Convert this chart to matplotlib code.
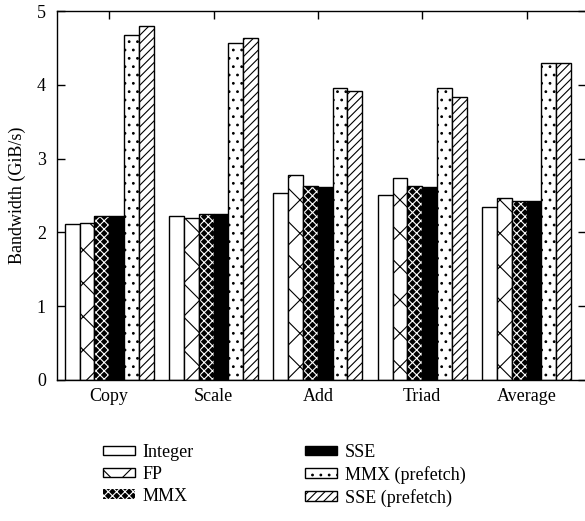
import matplotlib
matplotlib.use("Agg")
import matplotlib.pyplot as plt
import matplotlib.patches as mpatches
import numpy as np

plt.rcParams['font.family'] = ['Liberation Serif', 'DejaVu Serif']
plt.rcParams['hatch.linewidth'] = 0.8

categories = ["Copy", "Scale", "Add", "Triad", "Average"]
series_names = ["Integer", "FP", "MMX", "SSE", "MMX (prefetch)", "SSE (prefetch)"]
integer = [2.11, 2.22, 2.53, 2.51, 2.34]
fp = [2.13, 2.20, 2.78, 2.74, 2.46]
mmx = [2.22, 2.25, 2.63, 2.63, 2.43]
sse = [2.22, 2.25, 2.61, 2.62, 2.43]
mmx_pf = [4.68, 4.57, 3.96, 3.95, 4.29]
sse_pf = [4.79, 4.64, 3.91, 3.83, 4.29]
series = [integer, fp, mmx, sse, mmx_pf, sse_pf]

styles = [
    dict(facecolor="white", hatch=None),
    dict(facecolor="white", hatch="x"),
    dict(facecolor="black", hatch="xxxx"),
    dict(facecolor="black", hatch=None),
    dict(facecolor="white", hatch=".."),
    dict(facecolor="white", hatch="////"),
]

FS = 13
fig = plt.figure(figsize=(5.85, 5.21), dpi=100)
ax = fig.add_axes([57/585, 1-380/521, (586-57)/585, (380-11)/521])

x = np.arange(len(categories))
w = 0.142
for i, (vals, st, name) in enumerate(zip(series, styles, series_names)):
    pos = x + (i - 2.5) * w
    if name == "MMX":
        ax.bar(pos, vals, width=w, facecolor="black", edgecolor="white",
               linewidth=0, hatch=st["hatch"])
        ax.bar(pos, vals, width=w, facecolor="none", edgecolor="black", linewidth=1.0)
    else:
        ax.bar(pos, vals, width=w, facecolor=st["facecolor"], edgecolor="black",
               linewidth=1.0, hatch=st["hatch"])

ax.set_xlim(-0.5, 4.57)
ax.set_ylim(0, 5)
ax.set_xticks(x)
ax.set_xticklabels(categories, fontsize=FS)
ax.set_yticks(range(6))
ax.set_yticklabels([str(v) for v in range(6)], fontsize=FS)
ax.set_ylabel("Bandwidth (GiB/s)", fontsize=FS, labelpad=8)
ax.tick_params(direction="in", length=6, width=1, top=True, right=True)
ax.tick_params(axis="x", pad=6)
ax.tick_params(axis="y", pad=8)
for s in ax.spines.values():
    s.set_linewidth(1)

handles = []
for st, name in zip(styles, series_names):
    if name == "MMX":
        h = mpatches.Patch(facecolor="black", edgecolor="white", hatch="xxxx", label=name, linewidth=0)
    else:
        h = mpatches.Patch(facecolor=st["facecolor"], edgecolor="black", hatch=st["hatch"], label=name, linewidth=1)
    handles.append(h)

common = dict(loc="upper left", frameon=False, fontsize=FS, handlelength=1.75,
              handleheight=0.45, labelspacing=0.27, handletextpad=0.45,
              borderpad=0, borderaxespad=0)
leg1 = fig.legend(handles=handles[:3], bbox_to_anchor=(103/585, 1-444/521), **common)
leg2 = fig.legend(handles=handles[3:], bbox_to_anchor=(305/585, 1-444/521), **common)

fig.savefig("out.png", dpi=100)
